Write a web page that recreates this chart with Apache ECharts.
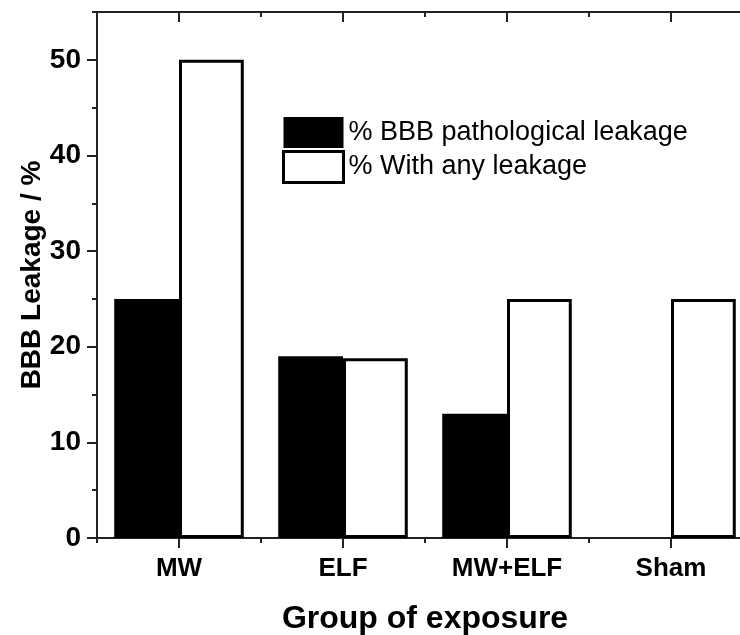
<!DOCTYPE html>
<html>
<head>
<meta charset="utf-8">
<script src="https://cdn.jsdelivr.net/npm/echarts@6/dist/echarts.min.js"></script>
<style>
html,body{margin:0;padding:0;background:#fff;}
#chart{width:740px;height:635px;}
</style>
</head>
<body>
<div id="chart"></div>
<script>
const categories = ['MW', 'ELF', 'MW+ELF', 'Sham'];
const pathologicalLeakage = [25, 19, 13, 0];
const anyLeakage = [50, 18.8, 25, 25];
const yMajorTicks = [0, 10, 20, 30, 40, 50];
const seriesNames = ['% BBB pathological leakage', '% With any leakage'];

const FONT = "'Liberation Sans', Arial, sans-serif";
const AXIS_COLOR = '#222';

const chart = echarts.init(document.getElementById('chart'), null, {renderer: 'canvas'});

const baseX = {
  type: 'category',
  data: categories,
  boundaryGap: true,
  axisLine: {show: false},
  axisLabel: {show: false},
  splitLine: {show: false}
};
const baseY = {
  type: 'value',
  min: 0,
  max: 55,
  axisLine: {show: false},
  axisLabel: {show: false},
  splitLine: {show: false}
};

chart.setOption({
  animation: false,
  backgroundColor: '#fff',
  grid: {left: 97, top: 12, width: 656, height: 526, containLabel: false, outerBoundsMode: 'none'},
  legend: {
    orient: 'vertical',
    left: 282,
    top: 117,
    padding: 0,
    itemWidth: 60,
    itemHeight: 31,
    itemGap: 2,
    icon: 'rect',
    textStyle: {fontFamily: FONT, fontSize: 27, color: '#000'},
    data: [
      {name: seriesNames[0], itemStyle: {color: '#000', borderColor: '#000', borderWidth: 0}},
      {name: seriesNames[1], itemStyle: {color: '#fff', borderColor: '#000', borderWidth: 3}}
    ]
  },
  xAxis: [
    Object.assign({}, baseX, {
      position: 'bottom',
      axisLine: {show: true, onZero: false, lineStyle: {color: AXIS_COLOR, width: 2}},
      axisTick: {show: true, alignWithLabel: true, length: 10, inside: false, lineStyle: {color: AXIS_COLOR, width: 2}},
      axisLabel: {show: true, margin: 18, fontFamily: FONT, fontSize: 26, fontWeight: 'bold', color: '#000'},
      name: 'Group of exposure',
      nameLocation: 'middle',
      nameGap: 65,
      nameMoveOverlap: false,
      nameTextStyle: {fontFamily: FONT, fontSize: 32, fontWeight: 'bold', color: '#000'}
    }),
    Object.assign({}, baseX, {
      position: 'bottom',
      axisLine: {show: false, onZero: false},
      axisTick: {show: true, alignWithLabel: false, length: 5, inside: false, lineStyle: {color: AXIS_COLOR, width: 2}}
    }),
    Object.assign({}, baseX, {
      position: 'top',
      axisLine: {show: true, onZero: false, lineStyle: {color: AXIS_COLOR, width: 2}},
      axisTick: {show: true, alignWithLabel: true, length: 10, inside: true, lineStyle: {color: AXIS_COLOR, width: 2}}
    }),
    Object.assign({}, baseX, {
      position: 'top',
      axisLine: {show: false, onZero: false},
      axisTick: {show: true, alignWithLabel: false, length: 5, inside: true, lineStyle: {color: AXIS_COLOR, width: 2}}
    })
  ],
  yAxis: [
    Object.assign({}, baseY, {
      position: 'left',
      interval: 10,
      axisLine: {show: true, onZero: false, lineStyle: {color: AXIS_COLOR, width: 2}},
      axisTick: {show: true, length: 10, inside: false, customValues: yMajorTicks, lineStyle: {color: AXIS_COLOR, width: 2}},
      axisLabel: {show: true, margin: 16, customValues: yMajorTicks, fontFamily: FONT, fontSize: 28, fontWeight: 'bold', color: '#000'},
      name: 'BBB Leakage / %',
      nameLocation: 'middle',
      nameGap: 51,
      nameMoveOverlap: false,
      nameTextStyle: {fontFamily: FONT, fontSize: 28, fontWeight: 'bold', color: '#000'}
    }),
    Object.assign({}, baseY, {
      position: 'left',
      interval: 5,
      axisTick: {show: true, length: 5, inside: false, lineStyle: {color: AXIS_COLOR, width: 2}}
    })
  ],
  series: [
    {
      name: seriesNames[0],
      type: 'bar',
      xAxisIndex: 0,
      yAxisIndex: 0,
      data: pathologicalLeakage,
      barGap: '0%',
      barCategoryGap: '21%',
      itemStyle: {color: '#000', borderColor: '#000', borderWidth: 0}
    },
    {
      name: seriesNames[1],
      type: 'bar',
      xAxisIndex: 0,
      yAxisIndex: 0,
      data: anyLeakage,
      barGap: '0%',
      barCategoryGap: '21%',
      itemStyle: {color: '#fff', borderColor: '#000', borderWidth: 3}
    }
  ]
});
</script>
</body>
</html>
